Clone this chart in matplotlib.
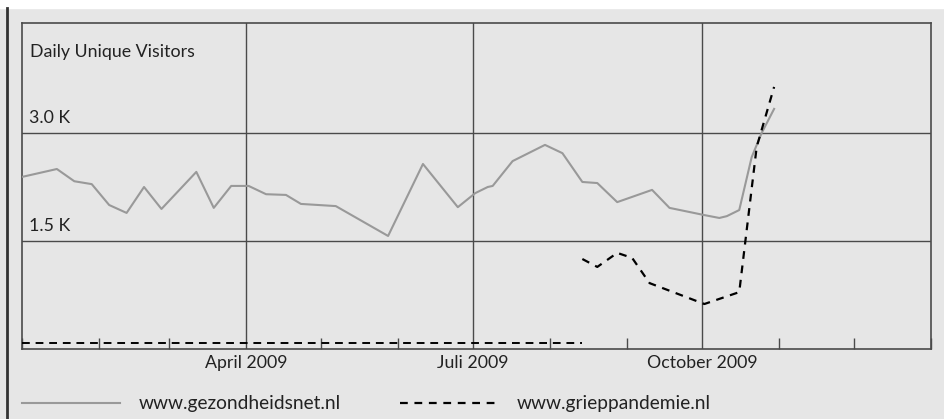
import pandas as pd
import numpy as np
import matplotlib
matplotlib.use("Agg")
import matplotlib.pyplot as plt
import matplotlib.dates as mdates

# data (daily unique visitors)
gez_dates = ["2009-01-01", "2009-01-15", "2009-01-22", "2009-01-29", "2009-02-05",
             "2009-02-12", "2009-02-19", "2009-02-26", "2009-03-12", "2009-03-19",
             "2009-03-26", "2009-04-02", "2009-04-09", "2009-04-17", "2009-04-23",
             "2009-05-07", "2009-05-28", "2009-06-11", "2009-06-25", "2009-07-02",
             "2009-07-07", "2009-07-09", "2009-07-17", "2009-07-30", "2009-08-06",
             "2009-08-14", "2009-08-20", "2009-08-28", "2009-09-11", "2009-09-18",
             "2009-10-02", "2009-10-08", "2009-10-11", "2009-10-16", "2009-10-21",
             "2009-10-25", "2009-10-30"]
gez_values = [2390, 2500, 2330, 2290, 2000, 1890, 2250, 1945, 2460, 1960,
              2265, 2265, 2150, 2140, 2015, 1985, 1570, 2570, 1970, 2165,
              2250, 2265, 2610, 2835, 2720, 2320, 2305, 2040, 2210, 1960,
              1860, 1820, 1845, 1930, 2665, 3000, 3335]

grip_early_dates = ["2009-01-01", "2009-08-14"]
grip_early_values = [80, 80]

grip_dates = ["2009-08-14", "2009-08-20", "2009-08-28", "2009-09-03", "2009-09-10",
              "2009-10-02", "2009-10-16", "2009-10-23", "2009-10-30"]
grip_values = [1250, 1140, 1335, 1265, 915, 625, 790, 2805, 3640]

ytick_vals = [1500, 3000]
ytick_labels = ["1.5 K", "3.0 K"]
month_ticks = ["2009-04-01", "2009-07-01", "2009-10-01"]
month_labels = ["April 2009", "Juli 2009", "October 2009"]

plt.rcParams["font.family"] = ["Lato", "DejaVu Sans"]
bg = "#e6e6e6"
gridc = "#4a4a4a"
txtc = "#222222"
fs = 12.8

fig = plt.figure(figsize=(9.44, 4.19), dpi=100, facecolor=bg)
W, H = 944, 419
ax = fig.add_axes([22 / W, 1 - 349 / H, (931 - 22) / W, (349 - 23) / H])
ax.set_facecolor(bg)

# white strip on top and dark bar on the left
fig.patches.append(plt.Rectangle((0, 1 - 8 / H), 1, 8 / H, transform=fig.transFigure,
                                 color="white", zorder=0))
fig.add_artist(plt.Line2D([7 / W, 7 / W], [0, 1 - 8 / H], transform=fig.transFigure,
                          color="#333333", lw=2))

gd = pd.to_datetime(gez_dates)
ax.plot(gd, gez_values, color="#999999", lw=1.5, zorder=3)
ax.plot(pd.to_datetime(grip_early_dates), grip_early_values, color="black", lw=1.4,
        dashes=(4, 3), zorder=3)
ax.plot(pd.to_datetime(grip_dates), grip_values, color="black", lw=1.6,
        dashes=(3.5, 3), zorder=3)

ax.set_xlim(pd.Timestamp("2009-01-01"), pd.Timestamp("2010-01-01"))
ax.set_ylim(0, 4528)

ax.set_yticks(ytick_vals)
ax.set_yticklabels([])
ax.tick_params(axis="y", length=0)
ax.grid(axis="y", color=gridc, lw=1)
for v, lab in zip(ytick_vals, ytick_labels):
    ax.text(pd.Timestamp("2009-01-04"), v + 95, lab, fontsize=fs, color=txtc,
            va="bottom", ha="left")
ax.text(0.009, 0.912, "Daily Unique Visitors", transform=ax.transAxes, fontsize=fs,
        color=txtc, va="center", ha="left")

mt = pd.to_datetime(month_ticks)
ax.set_xticks(mt)
ax.set_xticklabels(month_labels, fontsize=fs, color=txtc)
ax.tick_params(axis="x", which="major", length=0, pad=4)
ax.xaxis.set_minor_locator(mdates.MonthLocator())
ax.tick_params(axis="x", which="minor", direction="in", length=8, color=gridc, width=1)
for d in mt:
    ax.axvline(d, color=gridc, lw=1, zorder=1)

for s in ax.spines.values():
    s.set_color(gridc)
    s.set_linewidth(1.2)

# legend drawn below the axes
ly = 1 - 403 / H
fig.add_artist(plt.Line2D([22 / W, 120 / W], [ly, ly], transform=fig.transFigure,
                          color="#999999", lw=1.5))
fig.text(139 / W, ly, "www.gezondheidsnet.nl", fontsize=13.8, color=txtc,
         va="center", ha="left")
fig.add_artist(plt.Line2D([400 / W, 499 / W], [ly, ly], transform=fig.transFigure,
                          color="black", lw=1.6, dashes=(3.5, 3)))
fig.text(517 / W, ly, "www.grieppandemie.nl", fontsize=13.8, color=txtc,
         va="center", ha="left")

fig.savefig("out.png", dpi=100, facecolor=bg)
